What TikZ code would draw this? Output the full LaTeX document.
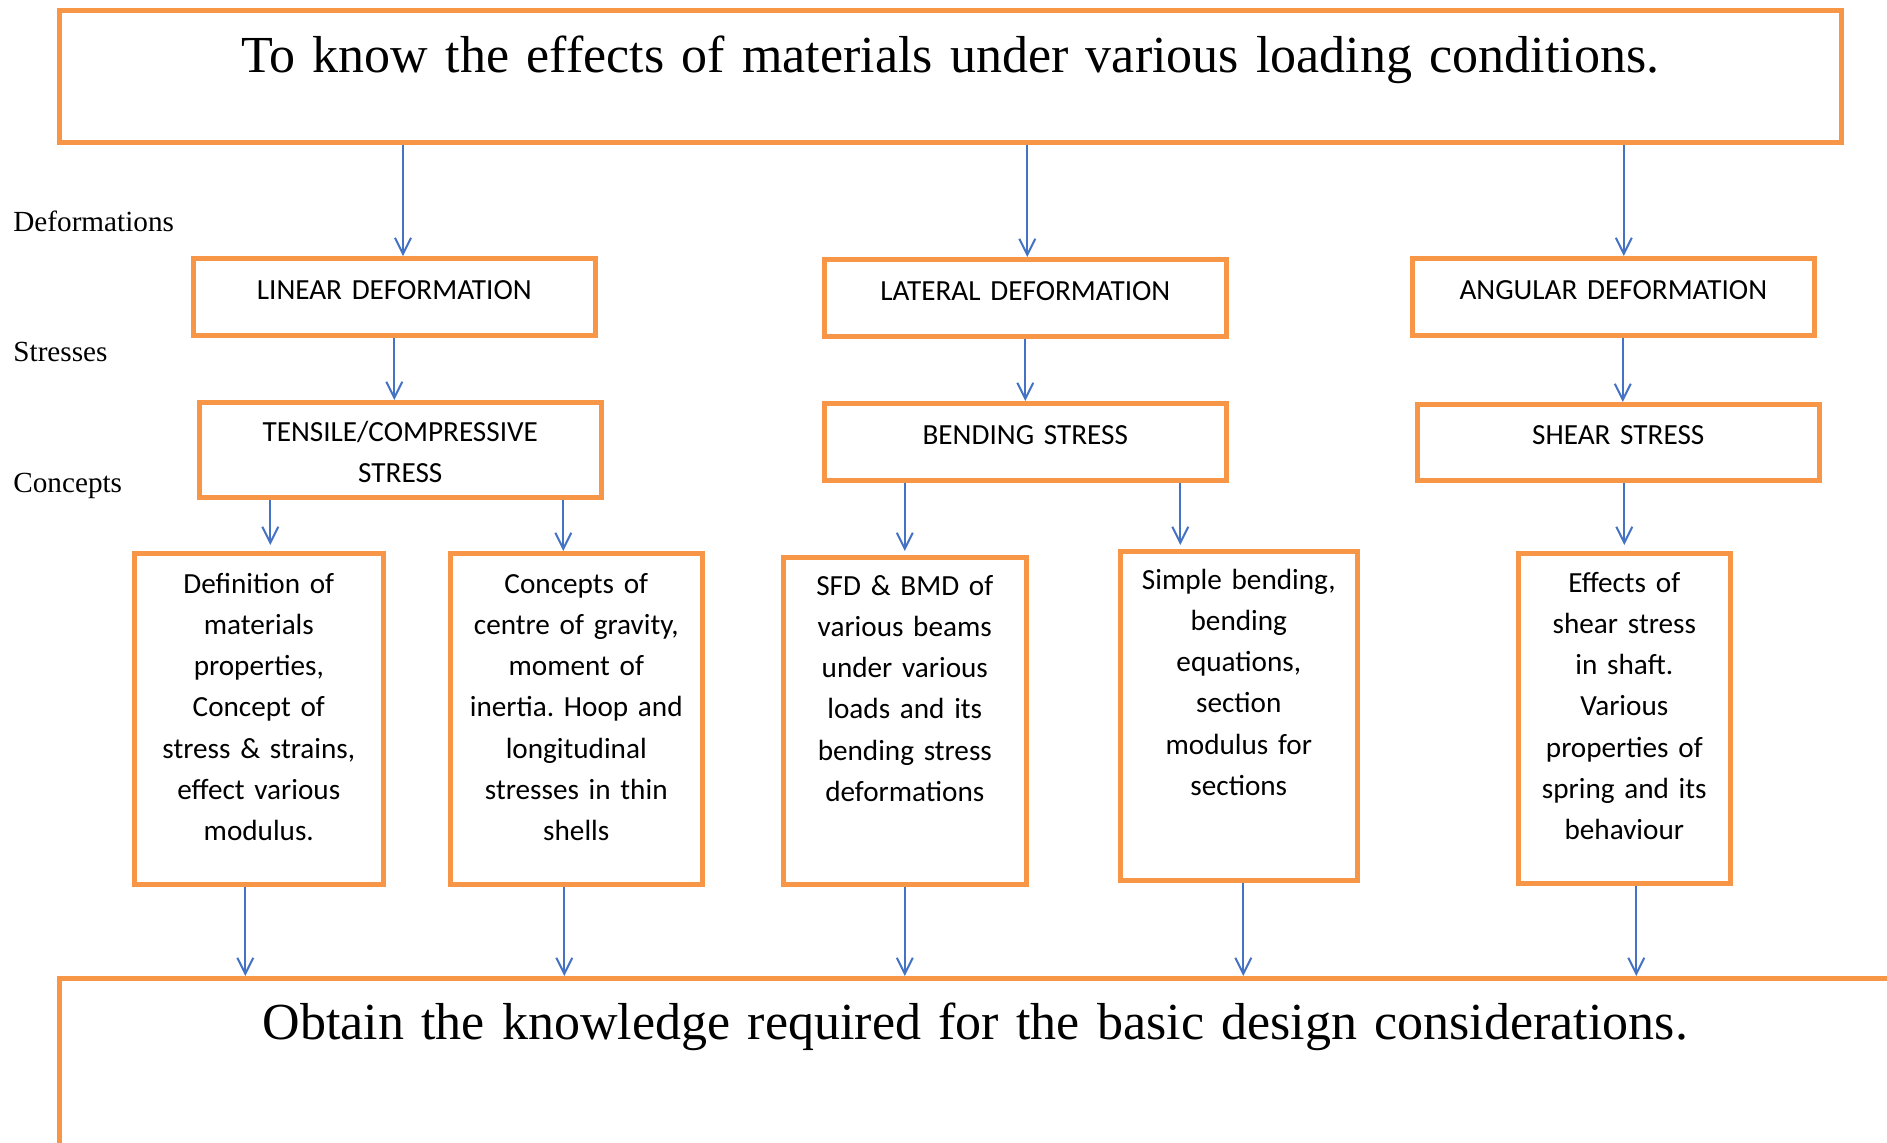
\documentclass[tikz,border=0pt]{standalone}
\usepackage{fontspec}
\setmainfont{Liberation Serif}
\newfontfamily\calibri{Carlito}
\usetikzlibrary{arrows.meta}
\definecolor{BoxOrange}{HTML}{F79646}
\definecolor{LinkBlue}{HTML}{4472C4}
\frenchspacing

\tikzset{
  frame/.style={draw=BoxOrange, line width=2.3pt, inner sep=0pt,
                anchor=north west, align=center},
  aim/.style={frame, font=\fontsize{26}{31}\selectfont},
  item/.style={frame, font=\calibri\fontsize{14.6}{20.6}\selectfont},
  defbox/.style={item, text width=201pt, text height=20.5pt, text depth=18pt},
  level/.style={anchor=base west, inner sep=0pt, font=\fontsize{14.6}{17}\selectfont},
  flow/.style={draw=LinkBlue, line width=1pt,
               -{Straight Barb[length=8pt,width=8pt]}}
}

\begin{document}
\begin{tikzpicture}[x=0.5pt, y=-0.5pt]
      \useasboundingbox (0,0) rectangle (1887,1142);
      \clip (0,0) rectangle (1887,1142);

      % aim and outcome
      \node[aim, text width=891pt, text height=31pt, text depth=35pt] (goal) at (57,8) {
            To know the effects of materials under various loading conditions.};
      \node[aim, text width=916pt, text height=30.5pt, text depth=120pt] (know) at (57,976) {
            Obtain the knowledge required for the basic design considerations.};

      % row labels
      \node[level] (ldef) at (13,231) {Deformations};
      \node[level] (lstr) at (13,361) {Stresses};
      \node[level] (lcon) at (13,492) {Concepts};

      % deformations and stresses
      \node[defbox] (lin) at (191,256) {LINEAR DEFORMATION};
      \node[defbox] (lat) at (822,257) {LATERAL DEFORMATION};
      \node[defbox] (ang) at (1410,256) {ANGULAR DEFORMATION};
      \node[item, text width=201pt, text height=19.5pt, text depth=28pt] (tens) at (197,400) {
            TENSILE/COMPRESSIVE\\STRESS};
      \node[defbox] (bend) at (822,401) {BENDING STRESS};
      \node[defbox, text height=20pt] (shear) at (1415,402) {SHEAR STRESS};

      % concepts
      \node[item, text width=124.5pt, text height=20pt, text depth=145.5pt] (def) at (132,551) {
            Definition of\\materials\\properties,\\Concept of\\stress \& strains,\\effect various\\modulus.};
      \node[item, text width=126pt, text height=20pt, text depth=145.5pt] (cog) at (448,551) {
            Concepts of\\centre of gravity,\\moment of\\inertia. Hoop and\\longitudinal\\stresses in thin\\shells};
      \node[item, text width=121.5pt, text height=19pt, text depth=144.5pt] (sfd) at (781,555) {
            SFD \& BMD of\\various beams\\under various\\loads and its\\bending stress\\deformations};
      \node[item, text width=118.5pt, text height=19pt, text depth=145.5pt] (simp) at (1118,549) {
            Simple bending,\\bending\\equations,\\section\\modulus for\\sections};
      \node[item, text width=106pt, text height=19.5pt, text depth=145.5pt] (eff) at (1516,551) {
            Effects of\\shear stress\\in shaft.\\Various\\properties of\\spring and its\\behaviour};

      % connectors
      \draw[flow] ([xshift=4.35pt]goal.south -| lin.north) -- ([xshift=4.35pt]lin.north);
      \draw[flow] ([xshift=1pt]goal.south -| lat.north) -- ([xshift=1pt]lat.north);
      \draw[flow] ([xshift=5.25pt]goal.south -| ang.north) -- ([xshift=5.25pt]ang.north);
      \draw[flow] (lin.south) -- (lin.south |- tens.north);
      \draw[flow] (lat.south) -- (bend.north);
      \draw[flow] ([xshift=4.75pt]ang.south) -- ([xshift=4.75pt]ang.south |- shear.north);
      \draw[flow, shorten >=3pt] ([xshift=5.75pt]tens.south -| def.north) -- ([xshift=5.75pt]def.north);
      \draw[flow] ([xshift=-6.5pt]tens.south -| cog.north) -- ([xshift=-6.5pt]cog.north);
      \draw[flow, shorten >=2pt] (bend.south -| sfd.north) -- (sfd.north);
      \draw[flow, shorten >=2pt] ([xshift=-29.25pt]bend.south -| simp.north) -- ([xshift=-29.25pt]simp.north);
      \draw[flow, shorten >=3pt] (shear.south -| eff.north) -- (eff.north);
      \draw[flow] ([xshift=-6.75pt]def.south) -- ([xshift=-6.75pt]def.south |- know.north);
      \draw[flow] ([xshift=-6pt]cog.south) -- ([xshift=-6pt]cog.south |- know.north);
      \draw[flow] (sfd.south) -- (sfd.south |- know.north);
      \draw[flow] ([xshift=2.25pt]simp.south) -- ([xshift=2.25pt]simp.south |- know.north);
      \draw[flow] ([xshift=6pt]eff.south) -- ([xshift=6pt]eff.south |- know.north);
    \end{tikzpicture}
\end{document}
